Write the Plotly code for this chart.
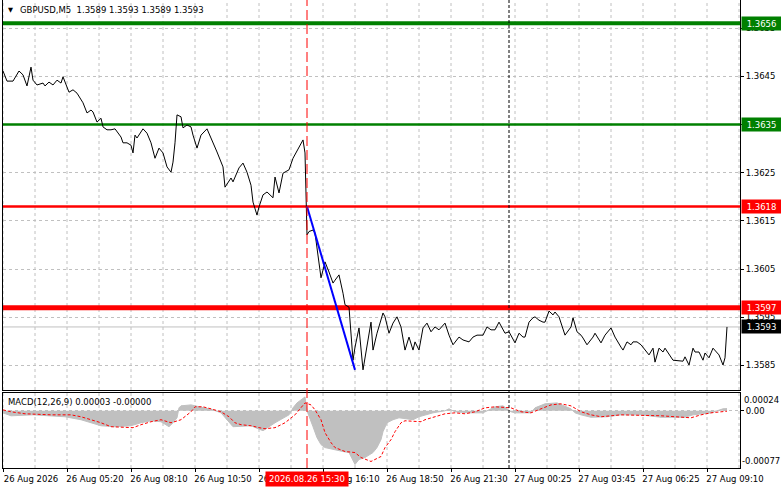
import plotly.graph_objects as go

FONT = "DejaVu Sans"

symbol_title = "GBPUSD,M5  1.3589 1.3593 1.3589 1.3593"
macd_title = "MACD(12,26,9) 0.00003 -0.00000"

price_bar = [0, 1, 2, 5, 8, 10, 12, 14, 15, 17, 20, 21, 23, 25, 27, 29, 30, 33, 35, 37,
             39, 40, 42, 44, 45, 47, 49, 50, 52, 54, 56, 59, 60, 62, 64, 65, 66, 67, 70, 72,
             74, 75, 76, 78, 80, 82, 84, 85, 86, 87, 89, 90, 92, 94, 95, 97, 99, 102, 105, 107,
             110, 111, 114, 115, 118, 120, 122, 124, 125, 127, 128, 130, 132, 135, 136, 138, 140, 143, 145, 148,
             150, 151, 152, 153, 155, 156, 157, 159, 160, 161, 163, 165, 166, 168, 170, 171, 173, 174, 175, 176,
             178, 180, 181, 184, 185, 187, 190, 191, 193, 195, 197, 199, 201, 203, 205, 206, 208, 210, 212, 214,
             216, 218, 221, 223, 225, 228, 230, 233, 235, 237, 240, 242, 244, 246, 248, 251, 253, 255, 256, 258,
             260, 261, 263, 265, 266, 268, 270, 271, 273, 275, 276, 278, 281, 284, 285, 287, 289, 290, 292, 295,
             296, 299, 301, 304, 306, 309, 310, 312, 314, 315, 317, 319, 321, 323, 325, 326, 328, 330, 331, 333,
             335, 340, 341, 343, 345, 346, 348, 350, 351, 353, 355, 358, 360, 361, 362]
price_close = [1.36461, 1.36449, 1.36440, 1.36440, 1.36461, 1.36453, 1.36430, 1.36469, 1.36442, 1.36432,
               1.36436, 1.36430, 1.36438, 1.36432, 1.36442, 1.36436, 1.36449, 1.36417, 1.36422, 1.36415,
               1.36401, 1.36395, 1.36374, 1.36380, 1.36376, 1.36355, 1.36363, 1.36345, 1.36339, 1.36339,
               1.36341, 1.36324, 1.36312, 1.36312, 1.36307, 1.36291, 1.36328, 1.36322, 1.36341, 1.36332,
               1.36312, 1.36297, 1.36280, 1.36301, 1.36291, 1.36262, 1.36251, 1.36272, 1.36312, 1.36370,
               1.36366, 1.36343, 1.36349, 1.36345, 1.36328, 1.36301, 1.36328, 1.36341, 1.36314, 1.36293,
               1.36262, 1.36220, 1.36239, 1.36231, 1.36260, 1.36270, 1.36251, 1.36224, 1.36189, 1.36162,
               1.36179, 1.36204, 1.36210, 1.36198, 1.36241, 1.36208, 1.36249, 1.36256, 1.36280, 1.36301,
               1.36318, 1.36291, 1.36121, 1.36128, 1.36131, 1.36125, 1.36096, 1.36032, 1.36048, 1.36065,
               1.36044, 1.36021, 1.36027, 1.36038, 1.36000, 1.35976, 1.35971, 1.35909, 1.35861, 1.35888,
               1.35928, 1.35841, 1.35868, 1.35940, 1.35882, 1.35917, 1.35959, 1.35951, 1.35917, 1.35938,
               1.35951, 1.35930, 1.35882, 1.35909, 1.35882, 1.35899, 1.35882, 1.35928, 1.35938, 1.35920,
               1.35930, 1.35924, 1.35938, 1.35913, 1.35893, 1.35909, 1.35903, 1.35899, 1.35909, 1.35913,
               1.35913, 1.35930, 1.35924, 1.35924, 1.35940, 1.35917, 1.35920, 1.35903, 1.35897, 1.35917,
               1.35909, 1.35909, 1.35940, 1.35949, 1.35951, 1.35944, 1.35940, 1.35940, 1.35963, 1.35955,
               1.35961, 1.35951, 1.35913, 1.35930, 1.35949, 1.35920, 1.35913, 1.35907, 1.35893, 1.35909,
               1.35917, 1.35897, 1.35913, 1.35928, 1.35909, 1.35888, 1.35882, 1.35899, 1.35893, 1.35899,
               1.35899, 1.35893, 1.35882, 1.35872, 1.35886, 1.35857, 1.35886, 1.35878, 1.35886, 1.35872,
               1.35861, 1.35859, 1.35868, 1.35851, 1.35886, 1.35878, 1.35878, 1.35861, 1.35876, 1.35866,
               1.35886, 1.35872, 1.35851, 1.35866, 1.35930]

hist_bar = [0, 4, 15, 31, 39, 44, 49, 56, 64, 69, 74, 79, 83, 85, 87, 88, 89, 94, 99, 105,
            109, 112, 115, 124, 130, 136, 139, 143, 144, 145, 147, 150, 151, 152, 153, 155, 157, 159, 161, 165,
            170, 173, 175, 176, 178, 181, 185, 187, 189, 190, 192, 195, 198, 201, 205, 208, 211, 215, 218, 221,
            223, 226, 233, 240, 243, 246, 250, 254, 256, 264, 266, 271, 277, 281, 284, 286, 289, 294, 299, 302,
            309, 319, 329, 341, 345, 349, 354, 357, 360, 362]
hist_val = [-0.000027, -0.000067, -0.000054, -0.000080, -0.000120, -0.000161, -0.000201, -0.000214, -0.000201, -0.000161,
            -0.000134, -0.000147, -0.000214, -0.000161, -0.000094, 0.000040, 0.000067, 0.000080, 0.000054, 0.000013,
            -0.000027, -0.000120, -0.000214, -0.000201, -0.000268, -0.000161, -0.000120, -0.000054, -0.000013, 0.000040,
            0.000107, 0.000174, 0.000187, 0.000000, -0.000080, -0.000214, -0.000361, -0.000455, -0.000495, -0.000522,
            -0.000548, -0.000562, -0.000682, -0.000722, -0.000655, -0.000629, -0.000562, -0.000495, -0.000388, -0.000281,
            -0.000161, -0.000120, -0.000094, -0.000107, -0.000120, -0.000080, -0.000054, -0.000027, -0.000013, 0.000000,
            0.000027, -0.000013, -0.000027, -0.000027, 0.000013, 0.000054, 0.000067, -0.000013, -0.000027, -0.000027,
            0.000040, 0.000094, 0.000107, 0.000067, 0.000027, -0.000027, -0.000054, -0.000087, -0.000087, -0.000080,
            -0.000054, -0.000054, -0.000087, -0.000087, -0.000054, -0.000040, -0.000027, 0.000000, 0.000027, 0.000030]

signal_bar = [0, 4, 11, 24, 34, 39, 44, 49, 54, 61, 65, 69, 74, 79, 84, 89, 94, 96, 100, 104,
              109, 113, 116, 119, 124, 128, 131, 136, 141, 146, 149, 151, 154, 156, 159, 161, 164, 166, 171, 176,
              179, 184, 186, 189, 191, 194, 196, 199, 201, 209, 211, 216, 221, 226, 231, 236, 241, 246, 254, 259,
              264, 269, 274, 279, 284, 289, 294, 299, 309, 329, 344, 349, 354, 362]
signal_val = [0.000013, -0.000013, -0.000040, -0.000054, -0.000054, -0.000080, -0.000120, -0.000161, -0.000214, -0.000227,
              -0.000227, -0.000187, -0.000147, -0.000120, -0.000161, -0.000120, -0.000013, 0.000054, 0.000054, 0.000027,
              -0.000013, -0.000080, -0.000161, -0.000187, -0.000201, -0.000227, -0.000241, -0.000227, -0.000161, -0.000054,
              0.000040, 0.000107, 0.000080, 0.000013, -0.000120, -0.000294, -0.000428, -0.000495, -0.000548, -0.000562,
              -0.000629, -0.000682, -0.000655, -0.000615, -0.000495, -0.000388, -0.000281, -0.000161, -0.000134, -0.000147,
              -0.000120, -0.000080, -0.000040, -0.000027, -0.000040, -0.000013, 0.000040, 0.000054, 0.000040, -0.000013,
              -0.000027, 0.000027, 0.000080, 0.000094, 0.000067, -0.000013, -0.000054, -0.000080, -0.000054, -0.000067,
              -0.000094, -0.000054, -0.000027, -0.000005]

time_tick_bar = [0, 32, 64, 96, 128, 160, 192, 224, 256, 288, 320, 352]
time_tick_text = ["26 Aug 2026", "26 Aug 05:20", "26 Aug 08:10", "26 Aug 10:50", "26 Aug 13:30",
                  "26 Aug 16:10", "26 Aug 18:50", "26 Aug 21:30", "27 Aug 00:25", "27 Aug 03:45",
                  "27 Aug 06:25", "27 Aug 09:10"]
grid_bar = list(range(0, 369, 16))
price_ticks = [1.3585, 1.3595, 1.3605, 1.3615, 1.3625, 1.3635, 1.3645, 1.3655]
price_range = [1.357992, 1.366083]
macd_range = [-0.00077, 0.00024]
bar_range = [0, 368.5]

levels = [1.3656, 1.3635, 1.3618, 1.3597]
level_colors = ["#008000", "#008000", "#FF0000", "#FF0000"]
level_widths = [4, 2.5, 2.5, 5]
bid_price = 1.3593
trend_bar = [152, 176]
trend_price = [1.3618, 1.35841]
vline_bar = [152, 253]
vline_colors = ["#FF0000", "#000000"]
vline_dash = ["10px,4px", "3px,2px"]
cursor_bar = 152
cursor_text = "2026.08.26 15:30"

GRID = "#C0C0C0"
GDASH = "3px,3px"

fig = go.Figure()

# horizontal level lines (drawn under the price line)
fig.add_trace(go.Scatter(x=bar_range, y=[bid_price, bid_price], mode="lines",
                         line=dict(color="#C0C0C0", width=1), xaxis="x", yaxis="y",
                         showlegend=False, hoverinfo="skip"))
for lv, col, w in zip(levels, level_colors, level_widths):
    fig.add_trace(go.Scatter(x=bar_range, y=[lv, lv], mode="lines",
                             line=dict(color=col, width=w), xaxis="x", yaxis="y",
                             showlegend=False, hoverinfo="skip"))

fig.add_trace(go.Scatter(x=price_bar, y=price_close, mode="lines",
                         line=dict(color="black", width=1), xaxis="x", yaxis="y",
                         showlegend=False, hoverinfo="skip"))
fig.add_trace(go.Scatter(x=trend_bar, y=trend_price, mode="lines",
                         line=dict(color="#0000FF", width=2), xaxis="x", yaxis="y",
                         showlegend=False, hoverinfo="skip"))
fig.add_trace(go.Scatter(x=hist_bar, y=hist_val, mode="lines", fill="tozeroy",
                         fillcolor="#C0C0C0", line=dict(color="#C0C0C0", width=1),
                         xaxis="x2", yaxis="y2", showlegend=False, hoverinfo="skip"))
fig.add_trace(go.Scatter(x=signal_bar, y=signal_val, mode="lines",
                         line=dict(color="#FF0000", width=1, dash="3px,2px"),
                         xaxis="x2", yaxis="y2", showlegend=False, hoverinfo="skip"))

shapes = []
for vb, col, d in zip(vline_bar, vline_colors, vline_dash):
    shapes.append(dict(type="line", xref="x", yref="paper", x0=vb, x1=vb, y0=0, y1=1,
                       line=dict(color=col, width=1, dash=d)))
# vertical dashed grid every 16 bars
for gb in grid_bar:
    shapes.append(dict(type="line", xref="x", yref="y domain", x0=gb, x1=gb, y0=0, y1=1,
                       layer="below", line=dict(color=GRID, width=1, dash=GDASH)))
    shapes.append(dict(type="line", xref="x2", yref="y2 domain", x0=gb, x1=gb, y0=0, y1=1,
                       layer="below", line=dict(color=GRID, width=1, dash=GDASH)))

annotations = []
for lv, col in zip(levels, level_colors):
    annotations.append(dict(xref="paper", yref="y", x=1, y=lv, xanchor="left", yanchor="middle",
                            xshift=1, text=f"{lv:.4f}", showarrow=False, bgcolor=col,
                            width=37, height=11, font=dict(family=FONT, size=8.5, color="white")))
annotations.append(dict(xref="paper", yref="y", x=1, y=bid_price, xanchor="left", yanchor="middle",
                        xshift=1, text=f"{bid_price:.4f}", showarrow=False, bgcolor="black",
                        width=37, height=11, font=dict(family=FONT, size=8.5, color="white")))
annotations.append(dict(xref="x2", yref="paper", x=cursor_bar, y=0, xanchor="center", yanchor="top",
                        yshift=-3, text=cursor_text, showarrow=False, bgcolor="#FF0000",
                        width=80, height=12, font=dict(family=FONT, size=8.5, color="white")))
annotations.append(dict(xref="paper", yref="paper", x=0.0045, y=(468 - 10) / 468, xanchor="left",
                        yanchor="middle", text="▼", showarrow=False,
                        font=dict(family=FONT, size=6.5, color="black")))
annotations.append(dict(xref="paper", yref="paper", x=15 / 737, y=(468 - 10) / 468, xanchor="left",
                        yanchor="middle", text=symbol_title, showarrow=False,
                        font=dict(family=FONT, size=8.5, color="black")))
annotations.append(dict(xref="paper", yref="paper", x=3 / 737, y=(468 - 401.5) / 468, xanchor="left",
                        yanchor="middle", text=macd_title, showarrow=False,
                        font=dict(family=FONT, size=8.5, color="black")))
annotations.append(dict(xref="paper", yref="y2", x=1, y=macd_range[1], xanchor="left", yanchor="top",
                        xshift=2, text="0.00024", showarrow=False,
                        font=dict(family=FONT, size=8.5, color="black")))
annotations.append(dict(xref="paper", yref="y2", x=1, y=macd_range[0], xanchor="left", yanchor="bottom",
                        xshift=0, text="-0.00077", showarrow=False,
                        font=dict(family=FONT, size=8.5, color="black")))

tickfont = dict(family=FONT, size=8.5, color="black")

fig.update_layout(
    width=781, height=489, autosize=False,
    margin=dict(l=3, r=41, t=0, b=21, pad=0),
    paper_bgcolor="white", plot_bgcolor="white",
    showlegend=False,
    shapes=shapes, annotations=annotations,
    xaxis=dict(domain=[0, 1], anchor="y", range=bar_range, tickmode="array",
               tickvals=time_tick_bar, showticklabels=False, ticks="",
               showgrid=False, showline=True, linecolor="black", linewidth=1,
               zeroline=False, automargin=False),
    xaxis2=dict(domain=[0, 1], anchor="y2", range=bar_range, tickmode="array",
                tickvals=time_tick_bar, ticktext=time_tick_text, ticks="outside", ticklen=3,
                tickcolor="black", tickangle=0, ticklabelshift=28, tickfont=tickfont,
                showgrid=False, showline=True, mirror=True, linecolor="black", linewidth=1,
                zeroline=False, automargin=False),
    yaxis=dict(domain=[78 / 468, 1], anchor="x", side="right", range=price_range,
               tickmode="array", tickvals=price_ticks, tickformat=".4f", tickfont=tickfont,
               ticks="outside", ticklen=3, tickcolor="black",
               showgrid=True, gridcolor=GRID, griddash=GDASH, gridwidth=1,
               showline=True, mirror=True, linecolor="black", linewidth=1, zeroline=False,
               automargin=False),
    yaxis2=dict(domain=[0, 75 / 468], anchor="x2", side="right", range=macd_range,
                tickmode="array", tickvals=[0], ticktext=["0.00"], tickfont=tickfont,
                ticks="outside", ticklen=3, tickcolor="black",
                showgrid=True, gridcolor=GRID, griddash=GDASH, gridwidth=1,
                showline=True, mirror=True, linecolor="black", linewidth=1, zeroline=False,
                automargin=False),
)

fig.write_html("out.html", config={"displayModeBar": False},
               post_script="document.body.style.margin='0';document.body.style.padding='0';"
                           "document.documentElement.style.overflow='hidden';")
